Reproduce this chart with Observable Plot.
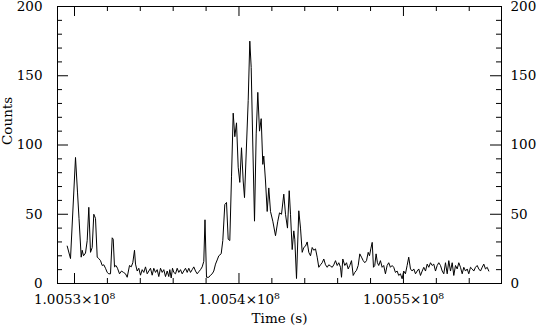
<!DOCTYPE html>
<html><head><meta charset="utf-8">
<script src="https://cdn.jsdelivr.net/npm/d3@7"></script>
<script src="https://cdn.jsdelivr.net/npm/@observablehq/plot@0.6"></script>
<style>body{margin:0;background:#fff}</style></head>
<body><div id="chart"></div>
<script>
const timeZero = 100530000;
const timeOffsets = [-444,-243,61,182,274,407,468,547,669,772,869,973,1076,1173,1277,1380,1477,1581,1684,1781,1885,1988,2085,2189,2292,2353,2432,2523,2614,2736,2858,2979,3101,3204,3344,3447,3545,3648,
3709,3812,3909,4013,4116,4213,4317,4420,4517,4621,4724,4821,4925,5028,5125,5229,5332,5429,5533,5636,5733,5794,5879,5958,6037,6141,6244,6341,6445,6548,6645,6749,6852,6949,7053,7156,7253,7357,7460,7557,7661,7764,7861,7934,8026,
8166,8269,8372,8469,8573,8676,8773,8919,9017,9138,9242,9345,9442,9546,9649,9746,9850,9953,10050,10154,10257,10336,10458,10561,10658,10743,10841,10944,11047,11145,11248,11351,11449,11509,11613,11716,11813,11917,12057,12221,12361,12464,12586,12725,12829,12950,13054,13133,13236,13333,13394,13498,13637,13741,13844,13941,14045,14148,14245,14349,14452,14549,14653,14756,14853,14957,15060,15157,15261,15364,15461,15565,15668,15765,15869,15972,16069,16173,16234,16313,16434,16538,16641,16738,16842,16945,17042,17146,17249,17346,17450,17553,17650,17754,17857,17936,18015,18101,18178,18257,18338,18418,18497,18601,18704,18801,18905,19008,19105,19209,19312,19409,19513,19616,19713,19817,19920,20017,20121,20224,20321,20429,20532,20629,20733,20836,20933,21037,21140,21237,21341,21444,21541,21645,21748,21845,21949,22052,22149,22253,22356,22453,22557,22660,22757,22861,22964,23061,23165,23268,23365,23469,23572,23669,23773,23876,23973,24077,24180,24277,24381,24484,24581,24685,24788,24885,24989,25092,25189];
const counts = [27,18,91,66,47,19,24,20,22,31,55,22.5,26,50,47,19,18,16.5,13,13.5,11,8,7,7,33,32,12,13,11,7,9,8,7,4.5,13,12,15,24,
14,9,11,6,10,8,12,7,9,11,6,11,8,10,5,11,8,10,5,9,5,10,4,11,8,7,11,8,10,7,9,11,8,11,8,10,12,9,7,8.5,10,12,16,46,4.5,
4.5,6,7,9,14,17,20,21.5,31,57,58.5,32,31,77,123,106,116,84,73,98,74,62,100,132,175,156,100,45,108,138,110,119,86,92,74,52,69,52,45,34.5,45,51,50,64.5,50,40,67,50,24.5,38,32,3.6,52.5,40,22.5,26,27,30,22.5,20,26,24,25,19,11.7,13.5,15,17.7,13.5,11.7,13.5,12.6,11.7,13.5,16.5,13,15,11.7,4.5,17.7,13,15,10.5,13,16.5,5.8,8,9.5,13,21.4,19,16.5,15,16.5,22.5,20,25,29.7,11.7,13,21.4,15,13,16.5,11.7,13,7,13,15,11.7,13,11.7,8,9,5.8,7,3.4,9,7,13,19,10.5,9,10.5,7,9,10.5,5.8,9,11.7,9,14,11.7,15,13,14,9,13,15,13,9,7,15,7,16.5,9,15,5.8,13,10.5,15,11.7,7,11.7,9,10.5,7,11.7,10.5,9,11.7,13,10.5,9,11.7,14,10.5,11.7,9];
const xMajorTicks = [100530000, 100540000, 100550000];
const xMinorTicks = [100532000,100534000,100536000,100538000,100542000,100544000,100546000,100548000,100552000,100554000];
const yMajorTicks = [0, 50, 100, 150, 200];
const yMinorTicks = [10,20,30,40,60,70,80,90,110,120,130,140,160,170,180,190];
const xDomain = [100528966, 100555962];
const yDomain = [0, 200];
const xLabel = "Time (s)";
const yLabel = "Counts";

const data = timeOffsets.map((o, i) => ({time: timeZero + o, counts: counts[i]}));
const W = 539, H = 331, mt = 6, mb = 48, ml = 57, mr = 38;
const ph = H - mt - mb, pw = W - ml - mr;

const chart = Plot.plot({
  width: W, height: H,
  marginTop: mt, marginBottom: mb, marginLeft: ml, marginRight: mr,
  x: {domain: xDomain},
  y: {domain: yDomain},
  style: {fontFamily: "DejaVu Serif", fontSize: "13.5px", background: "#fff", color: "#000"},
  marks: [
    Plot.frame({stroke: "#000"}),
    Plot.tickX(xMajorTicks, {x: d => d, insetTop: ph - 10}),
    Plot.tickX(xMajorTicks, {x: d => d, insetBottom: ph - 10}),
    Plot.tickX(xMinorTicks, {x: d => d, insetTop: ph - 5}),
    Plot.tickX(xMinorTicks, {x: d => d, insetBottom: ph - 5}),
    Plot.tickY(yMajorTicks, {y: d => d, insetRight: pw - 11}),
    Plot.tickY(yMajorTicks, {y: d => d, insetLeft: pw - 11}),
    Plot.tickY(yMinorTicks, {y: d => d, insetRight: pw - 5}),
    Plot.tickY(yMinorTicks, {y: d => d, insetLeft: pw - 5}),
    Plot.axisX(xMajorTicks, {tickSize: 0, tickPadding: 11, label: null,
      tickFormat: d => (d / 1e8).toFixed(4) + "×10⁸"}),
    Plot.axisY(yMajorTicks, {anchor: "left", tickSize: 0, tickPadding: 15, label: null}),
    Plot.axisY(yMajorTicks, {anchor: "right", tickSize: 0, tickPadding: 9, label: null}),
    Plot.line(data, {x: "time", y: "counts", stroke: "#000", strokeWidth: 1}),
    Plot.text([xLabel], {frameAnchor: "bottom", dy: 39, text: d => d}),
    Plot.text([yLabel], {frameAnchor: "left", dx: -50, rotate: -90, text: d => d})
  ]
});
document.getElementById("chart").appendChild(chart);
</script>
</body></html>
